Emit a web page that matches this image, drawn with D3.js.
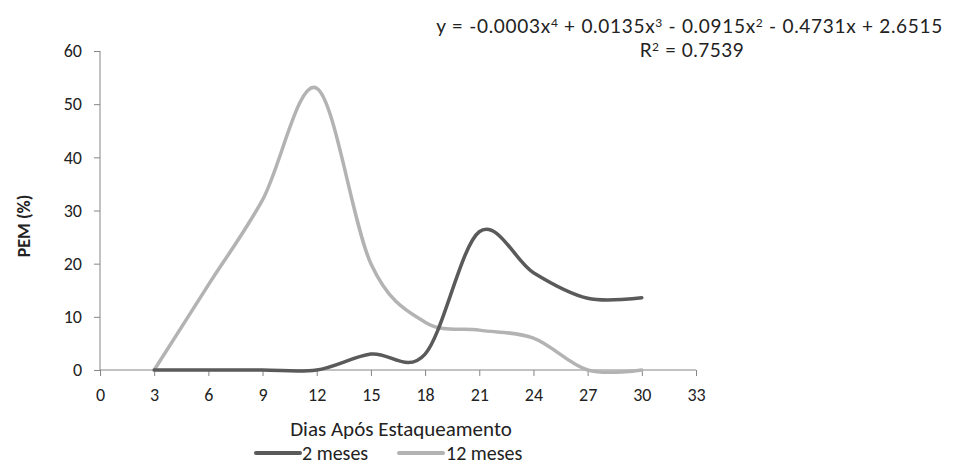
<!DOCTYPE html>
<html><head><meta charset="utf-8">
<script src="https://cdn.jsdelivr.net/npm/d3@7"></script>
<style>body{margin:0;background:#fff}svg{display:block}</style>
</head><body>
<svg id="c" width="961" height="466"></svg>
<script>
const days = [3, 6, 9, 12, 15, 18, 21, 24, 27, 30];
const meses2 = [0, 0, 0, 0, 3, 3, 26, 18.3, 13.5, 13.6];
const meses12 = [0, 16, 32, 53, 20, 9, 7.5, 6, 0, 0];
const xTicks = [0, 3, 6, 9, 12, 15, 18, 21, 24, 27, 30, 33];
const yTicks = [0, 10, 20, 30, 40, 50, 60];
const seriesNames = ["2 meses", "12 meses"];
const colors = ["#5a5a5a", "#b3b3b3"];

const svg = d3.select("#c");
const x = d3.scaleLinear().domain([0, 33]).range([100, 696]);
const y = d3.scaleLinear().domain([0, 60]).range([370, 51]);
const axisColor = "#868686";
const tickFont = "Carlito, Lato, sans-serif";

// y axis
const ya = svg.append("g").attr("transform", "translate(100,0)")
  .call(d3.axisLeft(y).tickValues(yTicks).tickSize(6).tickPadding(12));
ya.select(".domain").attr("stroke", axisColor).attr("d", "M0,51V370");
ya.selectAll(".tick line").attr("stroke", axisColor);
ya.selectAll("text").attr("font-family", tickFont).attr("font-size", 18).attr("fill", "#222");

// x axis
const xa = svg.append("g").attr("transform", "translate(0,370)")
  .call(d3.axisBottom(x).tickValues(xTicks).tickSize(6).tickPadding(12));
xa.select(".domain").attr("stroke", axisColor).attr("d", "M100,0H696");
xa.selectAll(".tick line").attr("stroke", axisColor);
xa.selectAll("text").attr("font-family", tickFont).attr("font-size", 18).attr("fill", "#222");

// lines
const line = d3.line().x((d, i) => x(days[i])).y(d => y(d)).curve(d3.curveCardinal.tension(0));
[meses12, meses2].forEach((s, k) => {
  svg.append("path").datum(s).attr("d", line).attr("fill", "none")
    .attr("stroke", k === 0 ? colors[1] : colors[0]).attr("stroke-width", 3.5)
    .attr("stroke-linecap", "round").attr("stroke-linejoin", "round");
});

// axis titles
svg.append("text").attr("transform", "translate(30,226) rotate(-90)")
  .attr("text-anchor", "middle").attr("font-family", tickFont).attr("font-size", 18)
  .attr("font-weight", "bold").attr("fill", "#222").text("PEM (%)");
svg.append("text").attr("x", 401).attr("y", 436).attr("text-anchor", "middle")
  .attr("font-family", tickFont).attr("font-size", 21).attr("fill", "#222")
  .text("Dias Após Estaqueamento");

// legend
const leg = [{x0: 256, x1: 300, tx: 302}, {x0: 399, x1: 443, tx: 446}];
leg.forEach((l, i) => {
  svg.append("line").attr("x1", l.x0).attr("x2", l.x1).attr("y1", 453).attr("y2", 453)
    .attr("stroke", colors[i]).attr("stroke-width", 4).attr("stroke-linecap", "round");
  svg.append("text").attr("x", l.tx).attr("y", 460).attr("font-family", tickFont)
    .attr("font-size", 20).attr("fill", "#222").text(seriesNames[i]);
});

// equation
const eqFont = "Lato, 'Open Sans', sans-serif";
const eq = svg.append("text").attr("x", 943).attr("y", 33).attr("text-anchor", "end")
  .attr("font-family", eqFont).attr("font-size", 19).attr("letter-spacing", 0.7).attr("fill", "#222");
const parts = [["y = -0.0003x",""],["4","s"],[" + 0.0135x",""],["3","s"],[" - 0.0915x",""],["2","s"],[" - 0.4731x + 2.6515",""]];
parts.forEach((p, i) => {
  const t = eq.append("tspan").text(p[0]);
  if (p[1] === "s") t.attr("font-size", 12).attr("dy", -6);
  else if (i > 0) t.attr("dy", 6);
});
const r2 = svg.append("text").attr("x", 692).attr("y", 57).attr("text-anchor", "middle")
  .attr("font-family", eqFont).attr("font-size", 19).attr("letter-spacing", 0.5).attr("fill", "#222");
r2.append("tspan").text("R");
r2.append("tspan").text("2").attr("font-size", 12).attr("dy", -6);
r2.append("tspan").text(" = 0.7539").attr("dy", 6);
</script>
</body></html>
